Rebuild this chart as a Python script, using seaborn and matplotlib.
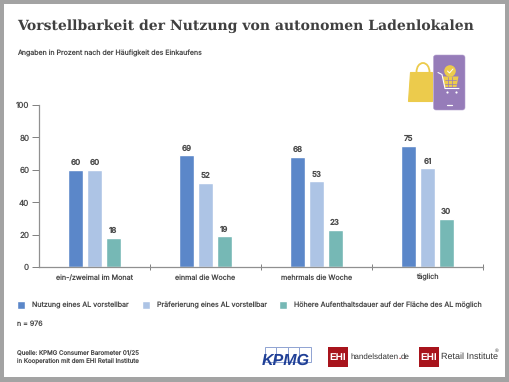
import matplotlib
matplotlib.use("Agg")
import matplotlib.pyplot as plt
import seaborn as sns
import pandas as pd
from matplotlib.patches import Rectangle, FancyBboxPatch, Polygon, Arc, Circle

categories = ["ein-/zweimal im Monat", "einmal die Woche", "mehrmals die Woche", "täglich"]
nutzung = [60, 69, 68, 75]
praeferenz = [60, 52, 53, 61]
aufenthalt = [18, 19, 23, 30]
series_names = ["Nutzung eines AL vorstellbar", "Präferierung eines AL vorstellbar",
                "Höhere Aufenthaltsdauer auf der Fläche des AL möglich"]
colors = ["#5b87c9", "#adc4e5", "#76b8b5"]
yticks = [0, 20, 40, 60, 80, 100]

W, H = 510, 382
sns.set_theme(style="white")
plt.rcParams["font.family"] = ["Inter", "DejaVu Sans"]
plt.rcParams["text.hinting"] = "no_hinting"
plt.rcParams["text.hinting_factor"] = 1
TXT = "#4a4a4a"

df = pd.DataFrame({
    "Kategorie": categories * 3,
    "Serie": sum([[s] * 4 for s in series_names], []),
    "Wert": nutzung + praeferenz + aufenthalt,
})

fig = plt.figure(figsize=(W / 100, H / 100), dpi=100, facecolor="white")
ax = fig.add_axes([39 / W, 1 - 267.3 / H, 444 / W, 162.3 / H])
sns.barplot(data=df, x="Kategorie", y="Wert", hue="Serie", palette=colors, width=0.503, gap=0.2,
            order=categories, hue_order=series_names, saturation=1, ax=ax, errorbar=None)
ax.set_ylim(0, 100)
ax.set_xlim(-0.5, 3.5)
ax.set_xlabel("")
ax.set_ylabel("")
ax.set_yticks(yticks)
ax.set_xticks([0, 1, 2, 3])
ax.set_xticklabels(categories)
sec = ax.secondary_xaxis("bottom")
sec.set_xticks([0.5, 1.5, 2.5, 3.5])
sec.set_xticklabels([])
sec.tick_params(length=4, width=0.7, color="#808080", direction="inout")
sec.spines["bottom"].set_visible(False)
ax.tick_params(axis="y", length=5, width=0.7, color="#808080", labelsize=5.8, labelcolor=TXT, pad=2, left=True)
ax.tick_params(axis="x", length=0, labelsize=5.15, labelcolor=TXT, pad=5)
for s in ["top", "right"]:
    ax.spines[s].set_visible(False)
for s in ["left", "bottom"]:
    ax.spines[s].set_color("#909090")
    ax.spines[s].set_linewidth(0.9)
for c in ax.containers:
    ax.bar_label(c, fmt="%d", fontsize=5.7, color=TXT, padding=2.2, fontweight="semibold")

leg = ax.legend(loc="upper left", bbox_to_anchor=(17 / W, 1 - 301 / H), bbox_transform=fig.transFigure,
                ncol=3, frameon=False, fontsize=5.1, handlelength=1.13, handleheight=1.4, handletextpad=1.0,
                columnspacing=1.8, borderpad=0, borderaxespad=0)
for t in leg.get_texts():
    t.set_color(TXT)

# Overlay in pixel coordinates for frame, headings and logos
ov = fig.add_axes([0, 0, 1, 1], facecolor="none")
ov.set_xlim(0, W)
ov.set_ylim(H, 0)
ov.axis("off")
GR = "#a3a3a3"
for r in [(0, 0, W, 4), (0, 377, W, 5), (0, 0, 4, H), (505.5, 0, 4.5, H)]:
    ov.add_patch(Rectangle((r[0], r[1]), r[2], r[3], fc=GR, ec="none"))

ov.text(17.5, 26, "Vorstellbarkeit der Nutzung von autonomen Ladenlokalen", family="DejaVu Serif",
        fontweight="bold", fontsize=10.12, color="#404040", va="center", ha="left")
ov.text(17.5, 53, "Angaben in Prozent nach der Häufigkeit des Einkaufens", fontsize=5.05, color=TXT, va="center")
ov.text(17.5, 323.5, "n = 976", fontsize=5.1, color=TXT, va="center")
ov.text(17.5, 352.5, "Quelle: KPMG Consumer Barometer 01/25", fontsize=4.45, color=TXT, va="center")
ov.text(17.5, 360.5, "in Kooperation mit dem EHI Retail Institute", fontsize=4.45, color=TXT, va="center")

# Bag and phone icon
YEL, PUR = "#eccb4c", "#967cb9"
ov.add_patch(Polygon([[410.5, 72], [432, 72], [432, 100.5], [408.5, 100.5]], closed=True, fc=YEL, ec=YEL, lw=0.8))
ov.add_patch(Arc((423, 72), 13, 18, theta1=180, theta2=360, ec=YEL, lw=1.3))
ov.add_patch(FancyBboxPatch((433.5, 55), 31.5, 55, boxstyle="round,pad=0,rounding_size=2.5", fc=PUR, ec="#b5a3d0", lw=0.4))
ov.add_patch(Circle((450, 71), 5.8, fc=YEL, ec="none"))
ov.add_patch(Polygon([[442.5, 76.5], [458.5, 76.5], [456.5, 87], [444.5, 87]], closed=True, fc=YEL, ec="none"))
ov.plot([445, 456.5], [80, 80], color=PUR, lw=0.5)
ov.plot([445, 456.5], [83.5, 83.5], color=PUR, lw=0.5)
ov.plot([448.5, 448.5], [77, 87], color=PUR, lw=0.5)
ov.plot([452.5, 452.5], [77, 87], color=PUR, lw=0.5)
ov.plot([438, 442, 445, 459], [72.5, 74.5, 88.5, 88.5], color="white", lw=0.8)
ov.scatter([447, 456], [92, 92], s=2.5, color="white", lw=0)
ov.plot([447, 452], [105.3, 105.3], color="white", lw=0.9)
ov.plot([447.5, 449.5, 453], [71, 73, 69], color="white", lw=0.7)

# KPMG logo
BLUE = "#1f3f96"
for x in [265, 276.5, 288, 299.5]:
    ov.add_patch(Rectangle((x, 347), 11.5, 15, fill=False, ec="#8fa3d2", lw=0.7))
ov.text(262, 361, "KPMG", family="Liberation Sans", fontsize=11.3, fontweight="bold", fontstyle="italic",
        color=BLUE, va="center", ha="left")

# EHI logos
RED = "#a8141c"
DARK = "#333333"
def ehi(x):
    ov.add_patch(Rectangle((x, 347), 20, 20, fc=RED, ec="none"))
    ov.text(x + 10, 357, "EHI", family="Liberation Sans", fontsize=7.2, fontweight="bold", color="white",
            ha="center", va="center")
ehi(328)
FS = 5.95
t1 = ov.text(350, 357, "handelsdaten", family="Liberation Sans", fontsize=FS, color=DARK, va="center")
r = fig.canvas.get_renderer()
x1 = t1.get_window_extent(r).x1
t2 = ov.text(x1 + 0.3, 357, ".", family="Liberation Sans", fontsize=FS, color=RED, va="center", fontweight="bold")
x2 = t2.get_window_extent(r).x1
ov.text(x2 + 0.3, 357, "de", family="Liberation Sans", fontsize=FS, color=DARK, va="center")
ehi(419)
ov.text(441, 357, "Retail Institute", family="Liberation Sans", fontsize=6.2, color=DARK, va="center")
ov.text(494.5, 351, "®", family="Liberation Sans", fontsize=3.5, color=DARK, va="center")

fig.savefig("out.png", dpi=100, facecolor="white")
